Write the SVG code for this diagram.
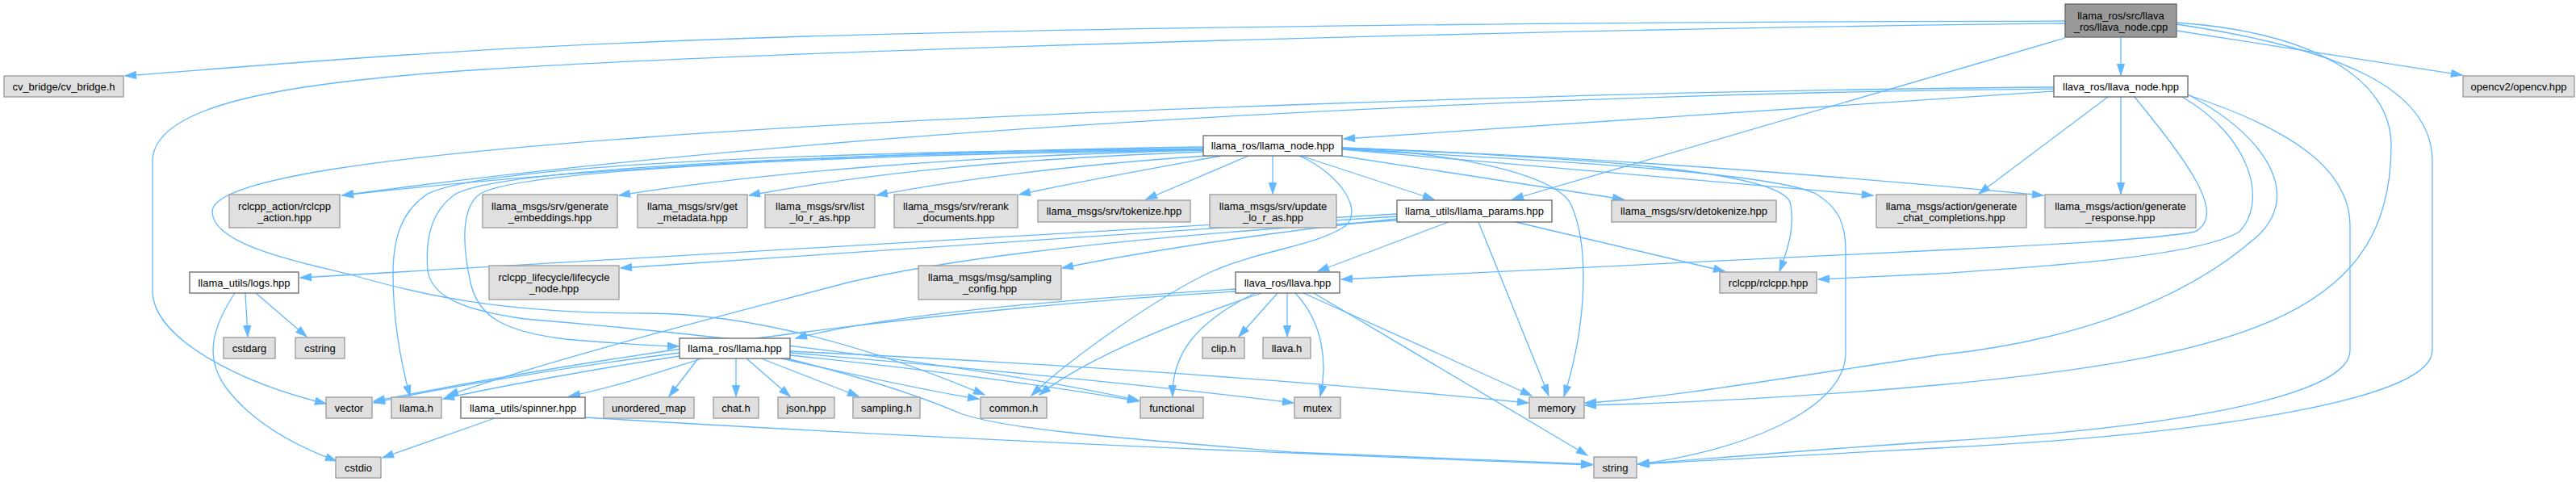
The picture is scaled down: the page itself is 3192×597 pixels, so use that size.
<svg xmlns="http://www.w3.org/2000/svg" width="3192" height="597" viewBox="0 0 3192 597">
<style>
text{font-family:"Liberation Sans",Arial,sans-serif;font-size:13px;fill:#000;text-anchor:middle}
.g rect{fill:#e0e0e0;stroke:#999999;stroke-width:1.3}
.w rect{fill:#ffffff;stroke:#666666;stroke-width:1.3}
.m rect{fill:#999999;stroke:#666666;stroke-width:1.3}
#edges path{fill:none;stroke:#63b8ff;stroke-width:1.3;marker-end:url(#ah)}
</style>
<defs>
<marker id="ah" markerUnits="userSpaceOnUse" markerWidth="14" markerHeight="10" refX="13.5" refY="4.5" orient="auto" overflow="visible">
<path d="M0,0 L13.5,4.5 L0,9 Z" fill="#63b8ff" stroke="#63b8ff" stroke-width="1"/>
</marker>
</defs>
<rect x="0" y="0" width="3192" height="597" fill="#ffffff"/>
<g id="edges">
<path d="M2559,26 C2000,27 1400,33 1000,45 C600,57 400,75 155,94"/>
<path d="M2559,29 C2000,35 1000,60 600,86 C350,102 189,130 189,200 L189,360 C189,420 300,475 404,500"/>
<path d="M2628,46 L2628,93"/>
<path d="M2559,47 L1874,247"/>
<path d="M2697,38 L3051,93"/>
<path d="M2697,28 C2870,40 2963,100 2963,180 C2963,380 2800,440 2400,477 C2200,495 2050,500 1964,502"/>
<path d="M2697,30 C2900,60 3014,110 3014,200 L3014,434 C3014,500 2700,540 2400,555 C2200,565 2100,572 2029,575"/>
<path d="M2545,113 L1665,172"/>
<path d="M2545,110 C2000,115 1100,150 424,242"/>
<path d="M2545,108 C2000,112 1200,140 800,170 C500,192 263,220 263,262 C263,300 350,320 434,340 C520,365 620,388 800,388 C930,388 1080,430 1220,489"/>
<path d="M2612,120 L2452,240"/>
<path d="M2628,120 L2628,240"/>
<path d="M2645,120 C2710,200 2760,265 2720,287 C2660,298 2500,305 2400,310 L1662,346"/>
<path d="M2704,120 C2790,170 2810,250 2775,287 C2720,320 2500,332 2400,339 L2253,346"/>
<path d="M2711,117 C2810,170 2850,240 2800,290 C2700,380 2550,425 2400,440 C2200,470 2050,495 1964,499"/>
<path d="M2712,118 C2840,160 2912,210 2912,280 L2912,434 C2912,490 2700,530 2400,547 C2200,560 2100,570 2029,575"/>
<path d="M1491,182 C1200,186 800,200 424,242"/>
<path d="M1491,186 C1200,193 950,213 767,242"/>
<path d="M1491,188 C1250,197 1080,214 928,242"/>
<path d="M1495,193 C1350,203 1200,220 1086,242"/>
<path d="M1513,193 C1420,210 1330,226 1263,241"/>
<path d="M1547,193 L1420,247"/>
<path d="M1577,193 L1577,240"/>
<path d="M1491,184 C1000,188 600,205 530,240 C500,260 487,290 487,340 C487,400 497,450 508,491"/>
<path d="M1491,185 C1000,190 620,210 565,240 C532,262 527,300 530,335 C535,370 580,385 650,395 C950,420 1250,460 1411,496"/>
<path d="M1491,186 C1000,192 640,212 595,240 C572,256 572,300 583,350 C592,390 620,410 700,420 C760,425 800,428 841,429"/>
<path d="M1663,183 C1950,195 2200,210 2218,250 C2225,280 2215,310 2205,336"/>
<path d="M1663,185 C1950,200 2200,215 2250,240 C2280,258 2287,280 2287,310 L2287,437 C2287,510 2150,560 2030,575"/>
<path d="M1663,184 C1800,188 1920,215 1945,250 C1970,300 1967,400 1938,491"/>
<path d="M1663,185 L2321,242"/>
<path d="M1663,183 C2000,195 2300,220 2532,242"/>
<path d="M1661,193 L2012,247"/>
<path d="M1612,193 L1777,247"/>
<path d="M1610,193 C1660,215 1690,260 1667,280 C1630,305 1560,310 1500,337 C1440,365 1330,440 1278,490"/>
<path d="M1731,265 C1400,285 900,315 372,344"/>
<path d="M1731,268 C1400,290 1000,315 769,332"/>
<path d="M1731,271 C1550,290 1400,315 1316,332"/>
<path d="M1731,273 C1450,290 1200,315 1050,350 C900,390 700,440 554,490"/>
<path d="M1832,275 L1919,490"/>
<path d="M1878,275 L2137,336"/>
<path d="M1795,275 L1633,336"/>
<path d="M1583,363 L1535,417"/>
<path d="M1595,363 L1595,417"/>
<path d="M1555,363 C1480,400 1452,440 1453,491"/>
<path d="M1605,363 C1640,400 1645,450 1636,491"/>
<path d="M1615,363 L1898,490"/>
<path d="M1628,363 L1967,564"/>
<path d="M1563,363 C1470,395 1350,440 1288,489"/>
<path d="M1531,358 C1300,372 1100,390 986,419"/>
<path d="M1531,361 C1200,380 800,430 463,497"/>
<path d="M865,444 L829,491"/>
<path d="M912,444 L912,491"/>
<path d="M925,444 L979,491"/>
<path d="M943,444 L1064,491"/>
<path d="M968,444 C1050,462 1150,485 1213,494"/>
<path d="M979,440 C1150,458 1300,478 1411,497"/>
<path d="M979,437 C1200,455 1450,480 1603,499"/>
<path d="M979,435 C1300,450 1600,470 1894,499"/>
<path d="M975,444 C1080,470 1150,495 1190,512 C1240,530 1350,540 1600,560 L1973,575"/>
<path d="M842,437 C700,455 550,480 463,499"/>
<path d="M842,441 C750,455 620,478 549,494"/>
<path d="M870,444 C820,460 760,480 705,491"/>
<path d="M613,518 L474,567"/>
<path d="M725,517 C1100,540 1600,562 1973,576"/>
<path d="M304,363 L307,417"/>
<path d="M317,363 L380,417"/>
<path d="M291,363 C260,410 255,445 280,480 C310,520 360,550 417,571"/>
</g>
<g id="n_main" class="m"><rect x="2559" y="5" width="138" height="41"/><text x="2628" y="23.5">llama_ros/src/llava</text><text x="2628" y="38">_ros/llava_node.cpp</text></g>
<g id="n_cv_bridge" class="g"><rect x="5" y="94" width="148" height="26"/><text x="79" y="111.5">cv_bridge/cv_bridge.h</text></g>
<g id="n_llava_node" class="w"><rect x="2545" y="94" width="166" height="26"/><text x="2628" y="111.5">llava_ros/llava_node.hpp</text></g>
<g id="n_opencv" class="g"><rect x="3052" y="94" width="138" height="26"/><text x="3121" y="111.5">opencv2/opencv.hpp</text></g>
<g id="n_llama_node" class="w"><rect x="1491" y="168" width="172" height="25"/><text x="1577" y="185">llama_ros/llama_node.hpp</text></g>
<g id="n_rclcpp_action" class="g"><rect x="284" y="241" width="137" height="41"/><text x="352.5" y="259.5">rclcpp_action/rclcpp</text><text x="352.5" y="274">_action.hpp</text></g>
<g id="n_embeddings" class="g"><rect x="598" y="241" width="167" height="41"/><text x="681.5" y="259.5">llama_msgs/srv/generate</text><text x="681.5" y="274">_embeddings.hpp</text></g>
<g id="n_get_metadata" class="g"><rect x="790" y="241" width="136" height="41"/><text x="858" y="259.5">llama_msgs/srv/get</text><text x="858" y="274">_metadata.hpp</text></g>
<g id="n_list_loras" class="g"><rect x="948" y="241" width="136" height="41"/><text x="1016" y="259.5">llama_msgs/srv/list</text><text x="1016" y="274">_lo_r_as.hpp</text></g>
<g id="n_rerank" class="g"><rect x="1108" y="241" width="153" height="41"/><text x="1184.5" y="259.5">llama_msgs/srv/rerank</text><text x="1184.5" y="274">_documents.hpp</text></g>
<g id="n_tokenize" class="g"><rect x="1286" y="248" width="189" height="27"/><text x="1380.5" y="265.5">llama_msgs/srv/tokenize.hpp</text></g>
<g id="n_update_loras" class="g"><rect x="1499" y="241" width="157" height="41"/><text x="1577.5" y="259.5">llama_msgs/srv/update</text><text x="1577.5" y="274">_lo_r_as.hpp</text></g>
<g id="n_llama_params" class="w"><rect x="1731" y="248" width="192" height="27"/><text x="1827" y="265.5">llama_utils/llama_params.hpp</text></g>
<g id="n_detokenize" class="g"><rect x="1997" y="248" width="204" height="27"/><text x="2099" y="265.5">llama_msgs/srv/detokenize.hpp</text></g>
<g id="n_chat" class="g"><rect x="2325" y="241" width="186" height="41"/><text x="2418" y="259.5">llama_msgs/action/generate</text><text x="2418" y="274">_chat_completions.hpp</text></g>
<g id="n_response" class="g"><rect x="2534" y="241" width="187" height="41"/><text x="2627.5" y="259.5">llama_msgs/action/generate</text><text x="2627.5" y="274">_response.hpp</text></g>
<g id="n_logs" class="w"><rect x="235" y="337" width="135" height="26"/><text x="302.5" y="354.5">llama_utils/logs.hpp</text></g>
<g id="n_lifecycle" class="g"><rect x="606" y="329" width="161" height="42"/><text x="686.5" y="347.5">rclcpp_lifecycle/lifecycle</text><text x="686.5" y="362">_node.hpp</text></g>
<g id="n_sampling_config" class="g"><rect x="1138" y="329" width="177" height="42"/><text x="1226.5" y="347.5">llama_msgs/msg/sampling</text><text x="1226.5" y="362">_config.hpp</text></g>
<g id="n_llava_hpp" class="w"><rect x="1531" y="337" width="129" height="26"/><text x="1595.5" y="354.5">llava_ros/llava.hpp</text></g>
<g id="n_rclcpp" class="g"><rect x="2131" y="337" width="120" height="26"/><text x="2191" y="354.5">rclcpp/rclcpp.hpp</text></g>
<g id="n_cstdarg" class="g"><rect x="277" y="418" width="64" height="26"/><text x="309" y="435.5">cstdarg</text></g>
<g id="n_cstring" class="g"><rect x="366" y="418" width="61" height="26"/><text x="396.5" y="435.5">cstring</text></g>
<g id="n_llama_hpp" class="w"><rect x="842" y="419" width="137" height="25"/><text x="910.5" y="436">llama_ros/llama.hpp</text></g>
<g id="n_clip" class="g"><rect x="1490" y="418" width="52" height="26"/><text x="1516" y="435.5">clip.h</text></g>
<g id="n_llava_h" class="g"><rect x="1565" y="418" width="59" height="26"/><text x="1594.5" y="435.5">llava.h</text></g>
<g id="n_vector" class="g"><rect x="404" y="492" width="57" height="26"/><text x="432.5" y="509.5">vector</text></g>
<g id="n_llama_h" class="g"><rect x="485" y="492" width="62" height="26"/><text x="516" y="509.5">llama.h</text></g>
<g id="n_spinner" class="w"><rect x="571" y="492" width="154" height="26"/><text x="648" y="509.5">llama_utils/spinner.hpp</text></g>
<g id="n_unordered_map" class="g"><rect x="748" y="492" width="112" height="26"/><text x="804" y="509.5">unordered_map</text></g>
<g id="n_chat_h" class="g"><rect x="884" y="492" width="56" height="26"/><text x="912" y="509.5">chat.h</text></g>
<g id="n_json" class="g"><rect x="964" y="492" width="70" height="26"/><text x="999" y="509.5">json.hpp</text></g>
<g id="n_sampling_h" class="g"><rect x="1057" y="492" width="83" height="26"/><text x="1098.5" y="509.5">sampling.h</text></g>
<g id="n_common" class="g"><rect x="1215" y="492" width="82" height="26"/><text x="1256" y="509.5">common.h</text></g>
<g id="n_functional" class="g"><rect x="1413" y="492" width="78" height="26"/><text x="1452" y="509.5">functional</text></g>
<g id="n_mutex" class="g"><rect x="1604" y="492" width="57" height="26"/><text x="1632.5" y="509.5">mutex</text></g>
<g id="n_memory" class="g"><rect x="1895" y="492" width="68" height="26"/><text x="1929" y="509.5">memory</text></g>
<g id="n_cstdio" class="g"><rect x="416" y="566" width="56" height="26"/><text x="444" y="583.5">cstdio</text></g>
<g id="n_string" class="g"><rect x="1975" y="566" width="53" height="26"/><text x="2001.5" y="583.5">string</text></g>
</svg>
